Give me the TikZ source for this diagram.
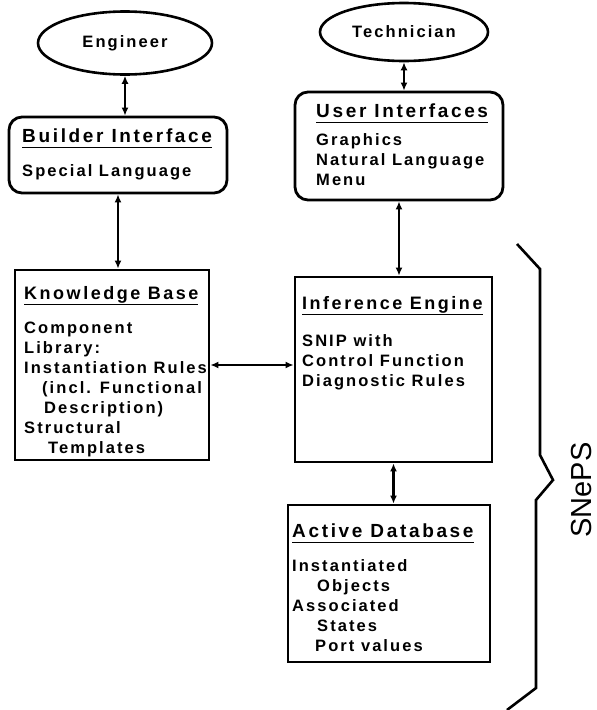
\documentclass[tikz,border=0pt]{standalone}
\usepackage{fontspec}
\setmainfont{Liberation Sans}[LetterSpace=12.5]
\newfontfamily\snepsfont{Liberation Sans}
\newfontfamily\headfont{Liberation Sans}[LetterSpace=14]
\usepackage{tikz}
\usetikzlibrary{arrows.meta,positioning,shapes.geometric}

\newcommand{\boxhead}[2][19]{{\headfont\bfseries\fontsize{#1}{20}\selectfont
  \setbox0\hbox{#2}\rlap{\rule[-6pt]{\wd0}{1.6pt}}\box0}}

\begin{document}
\begin{tikzpicture}[x=1pt,y=-1pt,
  actor/.style={ellipse,draw,line width=2.6pt,inner sep=0pt,font=\fontsize{16.5}{20}\selectfont\bfseries},
  roundbox/.style={rectangle,rounded corners=13pt,draw,line width=2.8pt,inner sep=0pt},
  box/.style={rectangle,draw,line width=2.8pt,inner sep=0pt},
  txt/.style={align=left,inner sep=0pt,anchor=north west,font=\fontsize{16.5}{20}\selectfont\bfseries},
  arr/.style={{Latex[length=8pt,width=7pt]}-{Latex[length=8pt,width=7pt]},line width=2.6pt}
]
\useasboundingbox (0,0) rectangle (597,710);
\node[actor,minimum width=174pt,minimum height=63pt] (eng) at (125,43) {Engineer};
\node[actor,minimum width=168pt,minimum height=58pt] (tech) at (404,32) {Technician};
\node[roundbox,minimum width=218pt,minimum height=76pt] (bld) at (118,155) {};
\node[roundbox,minimum width=208pt,minimum height=108pt] (ui) at (399,146) {};
\node[box,minimum width=194pt,minimum height=190pt] (kb) at (112,365) {};
\node[box,minimum width=197pt,minimum height=185pt] (ie) at (393.5,369.5) {};
\node[box,minimum width=202pt,minimum height=157pt] (ad) at (389,583.5) {};
\node[txt] (bldtxt) at (22,128.5) {\boxhead{Builder Interface}\\[14pt]
  Special Language};
\node[txt] (uitxt) at (316,103.5) {\boxhead{User Interfaces}\\[8pt]
  Graphics\\ Natural Language\\ Menu};
\node[txt] (kbtxt) at (24,286) {\boxhead[18]{Knowledge Base}\\[14pt]
  Component\\ Library:\\ Instantiation Rules\\
  \hspace*{18pt}(incl. Functional\\ \hspace*{20pt}Description)\\
  Structural\\ \hspace*{24pt}Templates};
\node[txt] (ietxt) at (302,296) {\boxhead[18]{Inference Engine}\\[17pt]
  SNIP with\\ Control Function\\ Diagnostic Rules};
\node[txt] (adtxt) at (292,523.5) {\boxhead{Active Database}\\[14pt]
  Instantiated\\ \hspace*{25pt}Objects\\ Associated\\
  \hspace*{25pt}States\\ \hspace*{23pt}Port values};
\draw[arr] (eng.south) -- (eng.south |- bld.north);
\draw[arr] (bld.south) -- (bld.south |- kb.north);
\draw[arr] (tech.south) -- (tech.south |- ui.north);
\draw[arr] (ui.south) -- (ui.south |- ie.north);
\draw[arr] (kb.east) -- (kb.east -| ie.west);
\draw[arr] (ie.south) -- (ie.south |- ad.north);
% brace round the SNePS part
\draw[line width=2.6pt] (517,244) -- (540,269) -- (540,455) -- (553,480) -- (536,500) -- (536,688) -- (507,710);
\node[rotate=90,inner sep=0pt,font=\snepsfont\fontsize{29}{30}\selectfont] (sneps) at (582,490) {SNePS};
\end{tikzpicture}
\end{document}
